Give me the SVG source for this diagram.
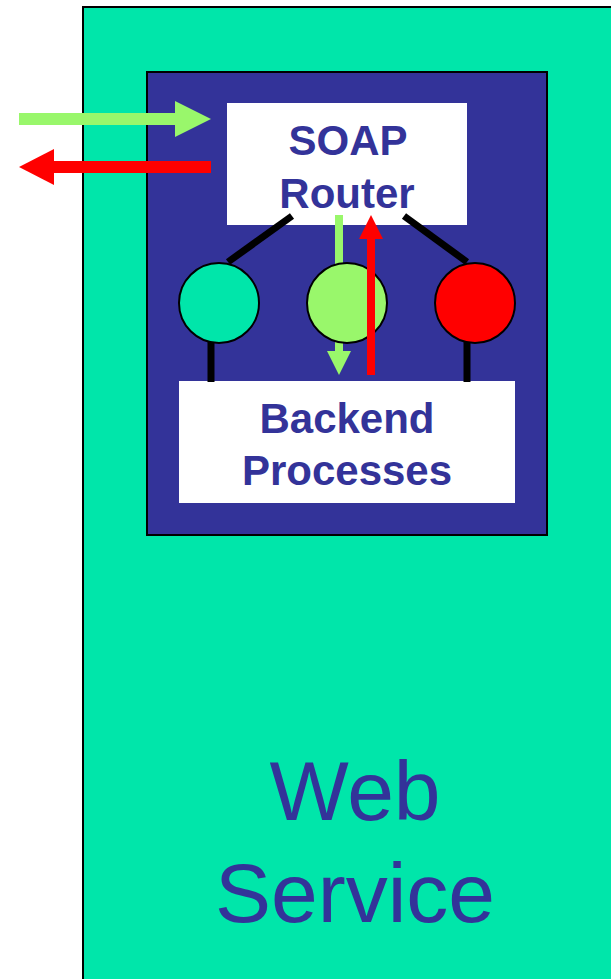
<svg xmlns="http://www.w3.org/2000/svg" width="611" height="979" viewBox="0 0 611 979">
<style>
.lbl{font-family:"Liberation Sans",Arial,sans-serif;font-weight:bold;font-size:42px;fill:#333399;text-anchor:middle}
.big{font-family:"Liberation Sans",Arial,sans-serif;font-size:84px;fill:#333399;text-anchor:middle}
.link{stroke:#000;stroke-width:7;fill:none}
.node{stroke:#000;stroke-width:2}
</style>
<rect width="611" height="979" fill="#fff"/>
<g id="web-service">
<rect x="83" y="7" width="540" height="990" fill="#00E6AA" stroke="#000" stroke-width="2"/>
<text class="big" x="355" y="820">Web</text>
<text class="big" x="355" y="922">Service</text>
</g>
<g id="container">
<rect x="147" y="72" width="400" height="463" fill="#333399" stroke="#000" stroke-width="2"/>
</g>
<g id="soap-router">
<rect x="227" y="103" width="240" height="122" fill="#fff"/>
<text class="lbl" x="348" y="155">SOAP</text>
<text class="lbl" x="347" y="208">Router</text>
</g>
<g id="backend">
<rect x="179" y="381" width="336" height="122" fill="#fff"/>
<text class="lbl" x="347" y="433">Backend</text>
<text class="lbl" x="347" y="485">Processes</text>
</g>
<g id="connectors">
<line class="link" x1="292" y1="216" x2="228" y2="262"/>
<line class="link" x1="404" y1="216" x2="467" y2="262"/>
<line class="link" x1="211" y1="340" x2="211" y2="382"/>
<line class="link" x1="467" y1="340" x2="467" y2="382"/>
<rect x="335" y="215" width="8" height="137" fill="#99F76B"/>
<polygon points="327,351 351,351 339,375" fill="#99F76B"/>
<rect x="19" y="113" width="157" height="12" fill="#99F76B"/>
<polygon points="175,101 211,119 175,137" fill="#99F76B"/>
<rect x="54" y="161" width="157" height="12" fill="#FF0000"/>
<polygon points="19,167 54,149 54,185" fill="#FF0000"/>
</g>
<g id="node-teal"><circle class="node" cx="219" cy="303" r="40" fill="#00E6AA"/></g>
<g id="node-green"><circle class="node" cx="347" cy="303" r="40" fill="#99F76B"/></g>
<g id="node-red"><circle class="node" cx="475" cy="303" r="40" fill="#FF0000"/></g>
<g id="red-return">
<rect x="367" y="237" width="8" height="138" fill="#FF0000"/>
<polygon points="359,239 383,239 371,215" fill="#FF0000"/>
</g>
</svg>
